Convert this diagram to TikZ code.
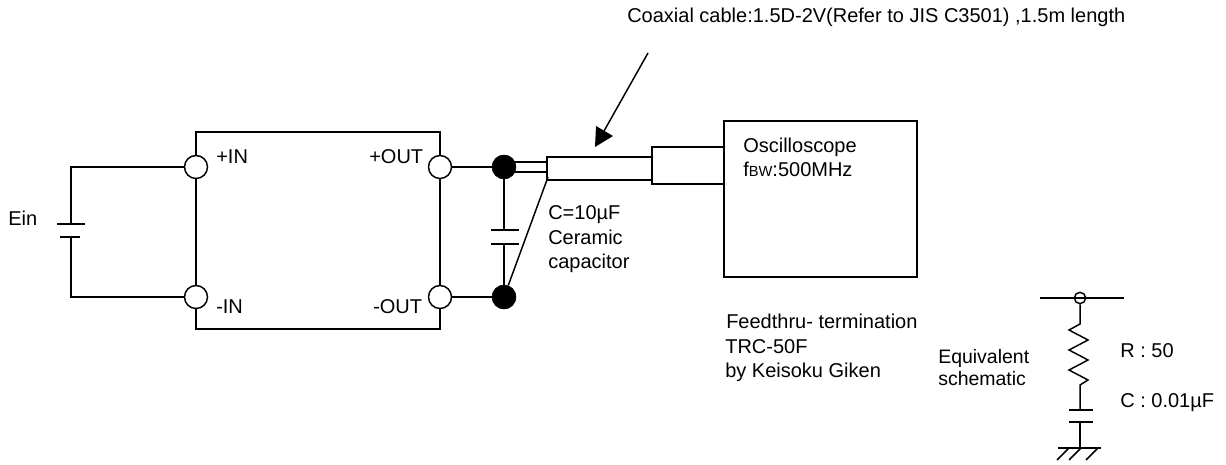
\documentclass[tikz,border=0pt]{standalone}
\usepackage{fontspec}
\setmainfont{Liberation Sans}
\begin{document}
\begin{tikzpicture}[x=0.75pt,y=-0.75pt,
  wire/.style={line width=1.1pt,black},
  port/.style={circle,draw=black,line width=1.1pt,fill=white,minimum size=17.25pt,inner sep=0pt},
  dot/.style={circle,fill=black,draw=black,minimum size=18pt,inner sep=0pt},
  tiny/.style={circle,draw=black,line width=1.1pt,minimum size=8.5pt,inner sep=0pt},
  box/.style={draw=black,line width=1.1pt,inner sep=0pt},
  lbl/.style={anchor=base west,inner sep=0pt,font=\fontsize{15}{18}\selectfont,text=black},
  lblsmall/.style={anchor=base west,inner sep=0pt,font=\fontsize{14.6}{18}\selectfont,text=black}]
\useasboundingbox (0,0) rectangle (1226,464);
\fill[white] (0,0) rectangle (1226,464);
% main block
\node[box,minimum width=183pt,minimum height=147.75pt] (block) at (318,230.5) {};
\node[box,minimum width=144.75pt,minimum height=117pt] (scope) at (820.5,199) {};
% battery
\coordinate (batp) at (71,224);
\coordinate (batn) at (71,237);
\node[port] (pin) at (196,167) {};
\node[port] (nin) at (196,297) {};
\node[port] (pout) at (440,167) {};
\node[port] (nout) at (440,297) {};
\draw[wire] (pin.west) -| (batp);
\draw[wire] (nin.west) -| (batn);
\draw[wire] (57,224) -- (85,224);
\draw[wire] (60,237) -- (80,237);
\node[dot] (dp) at (504,167) {};
\node[dot] (dn) at (504,297) {};
\draw[wire] (pout) -- (dp);
\draw[wire] (nout) -- (dn);
% capacitor
\coordinate (capt) at (504,230);
\coordinate (capb) at (504,244);
\draw[wire] (dp) -- (capt);
\draw[wire] (dn) -- (capb);
\draw[wire] (491,230) -- (519,230);
\draw[wire] (491,244) -- (519,244);
% cable
\node[box,minimum width=78.75pt,minimum height=17.25pt] (cable) at (599.5,168.5) {};
\node[box,minimum width=54pt,minimum height=27.75pt] (sleeve) at (688,165.5) {};
\draw[wire] (dp.center |- 0,162) -- (cable.west |- 0,162);
\draw[wire] (dp.center |- 0,172) -- (cable.west |- 0,172);
\coordinate (shield) at (548,177);
\draw[wire] (dn) -- (shield);
% arrow
\coordinate (arrs) at (648,53);
\coordinate (arre) at (604,131);
\draw[wire] (arrs) -- (arre);
\fill[black] (595,147) -- (596,126) -- (613,136) -- cycle;
% labels
\node[lbl] (t1) at (627,22.5) {Coaxial cable:1.5D-2V(Refer to JIS C3501) ,1.5m length};
\node[lbl] (t2) at (8,225) {Ein};
\node[lbl] (t3) at (216,163) {+IN};
\node[lbl] (t4) at (216,313) {-IN};
\node[lbl] (t5) at (369,163) {+OUT};
\node[lbl] (t6) at (373,313) {-OUT};
\node[lbl] (t7a) at (548,219) {C=10µF};
\node[lbl] (t7b) at (548,244) {Ceramic};
\node[lbl] (t7c) at (548,268) {capacitor};
\node[lbl] (t8) at (743,152) {Oscilloscope};
\node[lbl] (t9) at (743,176) {f{\fontsize{11}{13}\selectfont BW}:500MHz};
\node[lbl] (t10a) at (726,328.5) {Feedthru- termination};
\node[lbl] (t10b) at (725,353) {TRC-50F};
\node[lbl] (t10c) at (725,377) {by Keisoku Giken};
\node[lblsmall] (t11a) at (938,363) {Equivalent};
\node[lblsmall] (t11b) at (938,385) {schematic};
\node[lbl] (t12) at (1120,357) {R : 50};
\node[lbl] (t13) at (1120,407) {C : 0.01µF};
% equivalent schematic
\coordinate (el) at (1040,298);
\coordinate (er) at (1124,298);
\node[tiny] (eo) at (1080,298) {};
\draw[wire] (el) -- (er);
\coordinate (z0) at (1080,324);
\coordinate (z7) at (1080,385);
\draw[wire] (eo) -- (z0) -- (1069,330) -- (1088,340) -- (1069,350) -- (1088,360) -- (1069,370) -- (1088,380) -- (z7) -- (1080,410);
\draw[wire] (1069,410) -- (1093,410);
\draw[wire] (1069,422) -- (1093,422);
\coordinate (g) at (1080,448);
\draw[wire] (1080,422) -- (g);
\draw[wire] (1058,448) -- (1101,448);
\draw[wire] (1069,448) -- (1057,460);
\draw[wire] (1081,448) -- (1069,460);
\draw[wire] (1098,448) -- (1086,460);
\end{tikzpicture}
\end{document}
